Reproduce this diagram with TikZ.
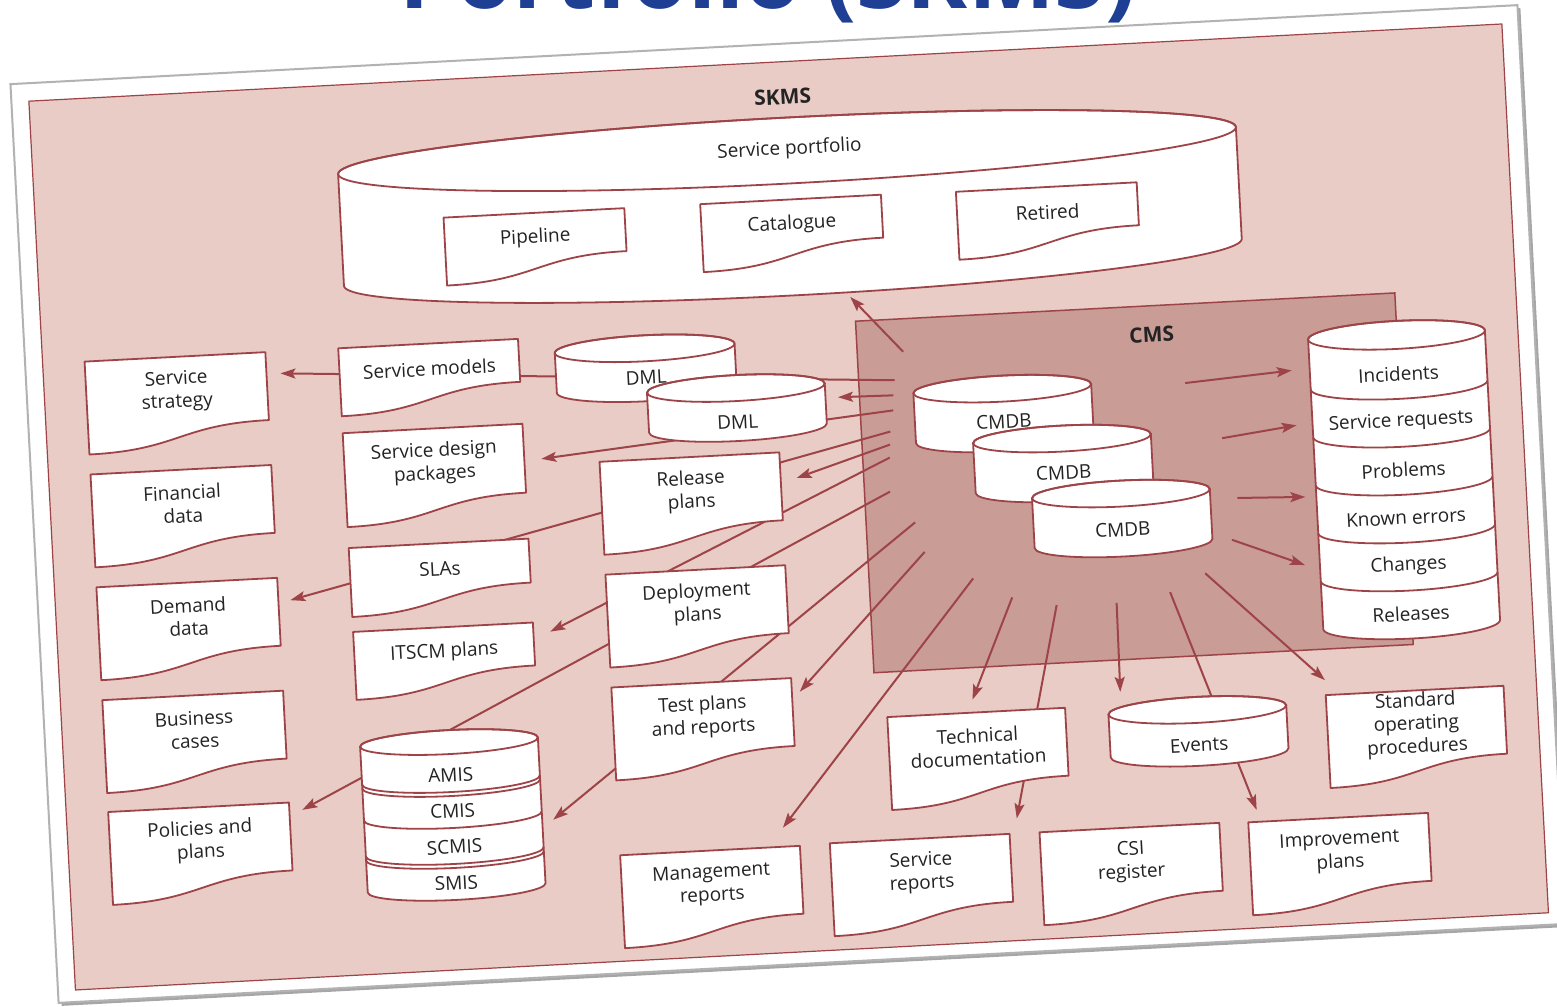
\documentclass[tikz,border=0pt]{standalone}
\usepackage{fontspec}
\setmainfont{Open Sans}
\usetikzlibrary{arrows.meta,shadows}
\definecolor{panel}{HTML}{E8CCC5}
\definecolor{cmsfill}{HTML}{C99C96}
\definecolor{ink}{HTML}{9E4448}
\definecolor{txt}{HTML}{232323}
\definecolor{titleblue}{HTML}{1F3F94}

\tikzset{
  docline/.style={draw=ink, line width=1.8pt, fill=white, line join=round},
  rim/.style={draw=ink, line width=1.8pt},
  lbl/.style={text=txt, font=\fontsize{19}{23}\selectfont, align=center, inner sep=0pt},
  conn/.style={draw=ink, line width=2pt, -{Stealth[length=15pt,width=10pt,inset=3pt]}},
  heading/.style={text=txt, font=\bfseries\fontsize{21}{24}\selectfont, inner sep=0pt},
}

% document sheet with a wavy lower edge: name, left, top, width, height, label
\newcommand\docbox[6]{%
  \pgfmathsetmacro\dbR{#2+#4}%
  \pgfmathsetmacro\dbB{#3+#5}%
  \pgfmathsetmacro\dbW{#3+#5-25}%
  \pgfmathsetmacro\dbM{#2+0.5*#4}%
  \pgfmathsetmacro\dbT{#3+0.37*#5}%
  \path[docline] (#2,#3) -- (\dbR,#3) -- (\dbR,\dbW)
     .. controls (\dbM,\dbW) and (\dbM,\dbB) .. (#2,\dbB) -- cycle;
  \node[lbl] (#1) at (\dbM,\dbT) {#6};
}

% database cylinder: name, centre x, top y, x radius, y radius, body height,
% label depth below the top, label
\newcommand\cylinder[8]{%
  \pgfmathsetmacro\cyL{#2-#4}%
  \pgfmathsetmacro\cyR{#2+#4}%
  \pgfmathsetmacro\cyB{#3+#6}%
  \pgfmathsetmacro\cyT{#3+#7}%
  \path[docline] (\cyL,#3) -- (\cyL,\cyB)
     arc[start angle=180,end angle=360,x radius=#4pt,y radius=#5pt]
     -- (\cyR,#3)
     arc[start angle=0,end angle=180,x radius=#4pt,y radius=#5pt] -- cycle;
  \draw[rim] (#2,#3) ellipse[x radius=#4pt,y radius=#5pt];
  \node[lbl] (#1) at (#2,\cyT) {#8};
}

\begin{document}
\begin{tikzpicture}[x=1pt,y=-1pt]
\useasboundingbox (0,0) rectangle (1557,1006);
\fill[white] (0,0) rectangle (1557,1006);

% slide heading, cut by the top of the page
\node[text=titleblue, font=\bfseries\fontsize{92}{92}\selectfont, anchor=base, inner sep=0pt]
  (title) at (768,9) {Portfolio (SKMS)};

\begin{scope}[rotate around={3:(788,504)}, transform shape]

% paper sheet and the SKMS area
\path[fill=white, draw=gray!60, line width=2pt,
      drop shadow={shadow xshift=3pt, shadow yshift=-3pt, opacity=0.35, fill=black}]
  (33.5,44) rectangle (1542.5,964);
\path[fill=panel, draw=ink, line width=1.2pt] (51,62) rectangle (1526,952);
\node[heading] (skms) at (804,97) {SKMS};

% CMS area
\path[fill=cmsfill, draw=ink, line width=1.5pt] (865,325) rectangle (1405,677);
\node[heading] (cms) at (1160,354) {CMS};

% connector ends
\coordinate (s1) at (901,386);   \coordinate (e1) at (288,347);
\coordinate (s2) at (899,401);   \coordinate (e2) at (843.5,400);
\coordinate (s3) at (898,416);   \coordinate (e3) at (544,446);
\coordinate (s4) at (894,437);   \coordinate (e4) at (286,574);
\coordinate (s5) at (893,450);   \coordinate (e5) at (798,478.5);
\coordinate (s6) at (892,463);   \coordinate (e6) at (544,619);
\coordinate (s7) at (890.5,497); \coordinate (e7) at (287,784);
\coordinate (s8) at (914,529);   \coordinate (e8) at (537,807);
\coordinate (s9) at (922,559);   \coordinate (e9) at (790,692);
\coordinate (s10) at (969,588);  \coordinate (e10) at (766,827);
\coordinate (s11) at (1007,609); \coordinate (e11) at (962,709);
\coordinate (s12) at (1051,619); \coordinate (e12) at (1000,830);
\coordinate (s13) at (1111,620); \coordinate (e13) at (1110,709);
\coordinate (s14) at (1165,612); \coordinate (e14) at (1240,834);
\coordinate (s15) at (1201,595); \coordinate (e15) at (1315,708);
\coordinate (s16) at (1191,404); \coordinate (e16) at (1298,397);
\coordinate (s17) at (1225,461); \coordinate (e17) at (1300,452);
\coordinate (s18) at (1237,521.5);\coordinate (e18) at (1305,524);
\coordinate (s19) at (1229.5,563);\coordinate (e19) at (1301,592);
\coordinate (s20) at (911,358);  \coordinate (e20) at (861,300.5);

\foreach \i in {1,...,20} { \draw[conn] (s\i) -- (e\i); }

% service portfolio
\path[docline] (356,151) -- (356,263)
   arc[start angle=180,end angle=360,x radius=449.5pt,y radius=33pt]
   -- (1255,151)
   arc[start angle=0,end angle=180,x radius=449.5pt,y radius=33pt] -- cycle;
\draw[rim] (805.5,151) ellipse[x radius=449.5pt,y radius=33pt];
\node[lbl] (portfolio) at (808,150) {Service portfolio};
\docbox{pipe}{459}{200}{181}{68}{Pipeline}
\docbox{cat}{716}{200}{181}{68}{Catalogue}
\docbox{ret}{972}{201}{181}{68}{Retired}

% first column
\docbox{sstrat}{93}{325}{181}{93}{Service\\strategy}
\docbox{fin}{93}{438}{181}{93}{Financial\\data}
\docbox{dem}{93}{551}{181}{93}{Demand\\data}
\docbox{bus}{93}{664}{181}{93}{Business\\cases}
\docbox{pol}{93}{776}{181}{93}{Policies and\\plans}

% second column
\docbox{smod}{347}{325}{180}{68}{Service models}
\docbox{sdp}{347}{410}{180}{94}{Service design\\packages}
\docbox{sla}{347}{525}{180}{69}{SLAs}
\docbox{itscm}{347}{609}{180}{68}{ITSCM plans}

% management information systems
\path[docline] (348,724) -- (348,870)
   arc[start angle=180,end angle=360,x radius=89pt,y radius=12pt]
   -- (526,724)
   arc[start angle=0,end angle=180,x radius=89pt,y radius=12pt] -- cycle;
\draw[rim] (437,724) ellipse[x radius=89pt,y radius=12pt];
\draw[rim] (348,762) arc[start angle=180,end angle=360,x radius=89pt,y radius=12pt];
\draw[rim] (348,766) arc[start angle=180,end angle=360,x radius=89pt,y radius=12pt];
\draw[rim] (348,798) arc[start angle=180,end angle=360,x radius=89pt,y radius=12pt];
\draw[rim] (348,834) arc[start angle=180,end angle=360,x radius=89pt,y radius=12pt];
\draw[rim] (348,838) arc[start angle=180,end angle=360,x radius=89pt,y radius=12pt];
\node[lbl] (amis)  at (437,757) {AMIS};
\node[lbl] (cmis)  at (437,793) {CMIS};
\node[lbl] (scmis) at (437,829) {SCMIS};
\node[lbl] (smis)  at (437,865) {SMIS};

% definitive media libraries
\cylinder{dml1}{653}{341}{90}{13}{40}{29}{DML}
\cylinder{dml2}{742}{385.5}{89}{13}{40}{34}{DML}

% third column
\docbox{relp}{602}{452}{180}{93}{Release\\plans}
\docbox{depp}{602}{565}{180}{93}{Deployment\\plans}
\docbox{testp}{602}{678}{180}{93}{Test plans\\and reports}

% configuration management databases
\cylinder{cmdb1}{1008}{400}{89}{13}{50}{33}{CMDB}
\cylinder{cmdb2}{1065}{453}{89}{13}{50}{34}{CMDB}
\cylinder{cmdb3}{1121}{511}{89}{13}{50}{36}{CMDB}

% operational records
\path[docline] (1316,367) -- (1316,657)
   arc[start angle=180,end angle=360,x radius=88.5pt,y radius=14pt]
   -- (1493,367)
   arc[start angle=0,end angle=180,x radius=88.5pt,y radius=14pt] -- cycle;
\draw[rim] (1404.5,367) ellipse[x radius=88.5pt,y radius=14pt];
\foreach \d in {417,465,513,561,609}
  { \draw[rim] (1316,\d) arc[start angle=180,end angle=360,x radius=88.5pt,y radius=14pt]; }
\node[lbl] (inc)  at (1404.5,406) {Incidents};
\node[lbl] (sreq) at (1404.5,454) {Service requests};
\node[lbl] (prob) at (1404.5,502) {Problems};
\node[lbl] (kerr) at (1404.5,550) {Known errors};
\node[lbl] (chg)  at (1404.5,598) {Changes};
\node[lbl] (rel)  at (1404.5,646) {Releases};

% lower row
\docbox{tech}{876}{722}{178}{93}{Technical\\documentation}
\cylinder{events}{1186}{731}{89}{13}{43}{35}{Events}
\docbox{sop}{1315}{723}{178}{93}{\fontsize{19}{21}\selectfont Standard\\operating\\procedures}
\docbox{mgmt}{602}{846}{180}{93}{Management\\reports}
\docbox{srep}{812}{845}{180}{93}{Service\\reports}
\docbox{csi}{1022}{845}{180}{93}{CSI\\register}
\docbox{impr}{1231}{846}{180}{93}{Improvement\\plans}

\end{scope}
\end{tikzpicture}
\end{document}
